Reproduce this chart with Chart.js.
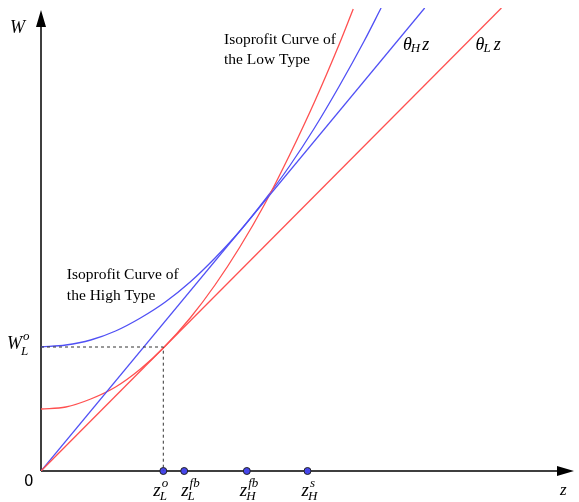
<!DOCTYPE html>
<html>
<head>
<meta charset="utf-8">
<script src="https://cdn.jsdelivr.net/npm/chart.js@4/dist/chart.umd.min.js"></script>
<style>
  html, body { margin: 0; padding: 0; background: #fff; }
  canvas { display: block; }
</style>
</head>
<body>
<canvas id="chart" width="579" height="502"></canvas>
<script>
// isoprofit curve of the low type (red)
const zLow = [0, 0.25, 0.5, 0.75, 1.0, 1.23, 1.5, 1.75, 2.0, 2.25, 2.5, 2.75, 3.0, 3.14];
const wLow = [0.62, 0.64, 0.72, 0.84, 1.02, 1.23, 1.53, 1.86, 2.24, 2.67, 3.16, 3.69, 4.27, 4.62];

// isoprofit curve of the high type (blue)
const zHigh = [0, 0.25, 0.5, 0.75, 1.0, 1.25, 1.5, 1.75, 2.0, 2.25, 2.5, 2.75, 3.0, 3.25, 3.42];
const wHigh = [1.24, 1.26, 1.31, 1.40, 1.53, 1.69, 1.89, 2.13, 2.40, 2.71, 3.05, 3.43, 3.85, 4.30, 4.63];

// rays W = theta * z
const thetaL = 1.0;
const thetaH = 1.2;
const rayTopW = 4.63;

// marked contract levels on the z axis
const markerZ = [1.23, 1.44, 2.07, 2.68];
const markerLabels = [['L', 'o'], ['L', 'fb'], ['H', 'fb'], ['H', 's']];
const wLo = 1.24;

const RED = 'rgb(255,80,80)';
const BLUE = 'rgb(80,80,245)';
const SERIF = '"Liberation Serif", "Times New Roman", serif';

// horizontal nudges for the z-axis labels, in pixels
const labelShift = [-10, -3, -7, -6];

const pts = (xs, ys) => xs.map((x, i) => ({ x: x, y: ys[i] }));

function mathText(ctx, x, y, base, sub, sup, size, small, raise, drop) {
  ctx.font = `italic ${size}px ${SERIF}`;
  ctx.fillText(base, x, y);
  const w = ctx.measureText(base).width;
  ctx.font = `italic ${small}px ${SERIF}`;
  if (sup) ctx.fillText(sup, x + w + 1, y - raise);
  if (sub) ctx.fillText(sub, x + w - 1, y + drop);
  ctx.font = `italic ${small}px ${SERIF}`;
  return x + w + Math.max(sub ? ctx.measureText(sub).width : 0, sup ? ctx.measureText(sup).width : 0);
}

const axesAndText = {
  id: 'axesAndText',
  beforeDatasetsDraw(chart) {
    const ctx = chart.ctx;
    const xs = chart.scales.x, ys = chart.scales.y;
    const ox = xs.getPixelForValue(0), oy = ys.getPixelForValue(0);
    const xEnd = xs.getPixelForValue(5.36), yEnd = ys.getPixelForValue(4.61);
    ctx.save();
    ctx.strokeStyle = '#000';
    ctx.fillStyle = '#000';
    ctx.lineWidth = 1.5;
    ctx.beginPath();
    ctx.moveTo(ox, oy); ctx.lineTo(xEnd - 14, oy);
    ctx.moveTo(ox, oy); ctx.lineTo(ox, yEnd + 14);
    ctx.stroke();
    // arrow heads
    ctx.beginPath();
    ctx.moveTo(xEnd, oy); ctx.lineTo(xEnd - 17, oy - 5); ctx.lineTo(xEnd - 17, oy + 5); ctx.closePath();
    ctx.moveTo(ox, yEnd); ctx.lineTo(ox - 5, yEnd + 17); ctx.lineTo(ox + 5, yEnd + 17); ctx.closePath();
    ctx.fill();
    ctx.restore();
  },
  afterDatasetsDraw(chart) {
    const ctx = chart.ctx;
    const xs = chart.scales.x, ys = chart.scales.y;
    const px = v => xs.getPixelForValue(v), py = v => ys.getPixelForValue(v);
    ctx.save();
    ctx.fillStyle = '#000';
    ctx.textBaseline = 'alphabetic';
    ctx.textAlign = 'left';

    mathText(ctx, px(0) - 31, py(4.61) + 23, 'W', null, null, 18);
    mathText(ctx, px(5.36) - 14, py(0) + 24, 'z', null, null, 17);
    mathText(ctx, px(0) - 34, py(wLo) + 2, 'W', 'L', 'o', 18, 13, 9, 6);

    ctx.font = `15px "DejaVu Sans", sans-serif`;
    ctx.fillText('0', px(0) - 17, py(0) + 15);

    markerZ.forEach((z, i) => {
      const [sub, sup] = markerLabels[i];
      mathText(ctx, px(z) + labelShift[i], py(0) + 25, 'z', sub, sup, 19, 13, 9, 4);
    });

    let e = mathText(ctx, px(3.64), py(4.21), '\u03B8', 'H', null, 18, 13, 0, 2);
    mathText(ctx, e + 1, py(4.21), 'z', null, null, 18);
    e = mathText(ctx, px(4.37), py(4.21), '\u03B8', 'L', null, 18, 13, 0, 2);
    mathText(ctx, e + 2, py(4.21), 'z', null, null, 18);

    ctx.font = `15.5px ${SERIF}`;
    ctx.fillText('Isoprofit Curve of', px(1.84), py(4.27));
    ctx.fillText('the Low Type', px(1.84), py(4.07));
    ctx.fillText('Isoprofit Curve of', px(0.26), py(1.92));
    ctx.fillText('the High Type', px(0.26), py(1.71));
    ctx.restore();
  }
};

new Chart(document.getElementById('chart'), {
  type: 'scatter',
  data: {
    datasets: [
      {
        data: [{ x: 0, y: wLo }, { x: markerZ[0], y: wLo }, { x: markerZ[0], y: 0 }],
        showLine: true, borderColor: '#333', borderWidth: 1, borderDash: [3, 3],
        pointRadius: 0, tension: 0
      },
      {
        data: [{ x: 0, y: 0 }, { x: rayTopW / thetaL, y: rayTopW }],
        showLine: true, borderColor: RED, borderWidth: 1.3, pointRadius: 0
      },
      {
        data: [{ x: 0, y: 0 }, { x: rayTopW / thetaH, y: rayTopW }],
        showLine: true, borderColor: BLUE, borderWidth: 1.3, pointRadius: 0
      },
      {
        data: pts(zLow, wLow),
        showLine: true, borderColor: RED, borderWidth: 1.3, pointRadius: 0,
        cubicInterpolationMode: 'monotone'
      },
      {
        data: pts(zHigh, wHigh),
        showLine: true, borderColor: BLUE, borderWidth: 1.3, pointRadius: 0,
        cubicInterpolationMode: 'monotone'
      },
      {
        data: markerZ.map(z => ({ x: z, y: 0 })),
        showLine: false, clip: false, pointRadius: 3.5, pointBackgroundColor: 'rgb(70,70,235)',
        pointBorderColor: '#222', pointBorderWidth: 1
      }
    ]
  },
  options: {
    responsive: false,
    animation: false,
    layout: { padding: { left: 41, right: 2, top: 8, bottom: 31 } },
    plugins: { legend: { display: false }, tooltip: { enabled: false } },
    scales: {
      x: { type: 'linear', min: 0, max: 5.36, display: false },
      y: { type: 'linear', min: 0, max: 4.63, display: false }
    },
    elements: { line: { fill: false } }
  },
  plugins: [axesAndText]
});
</script>
</body>
</html>
